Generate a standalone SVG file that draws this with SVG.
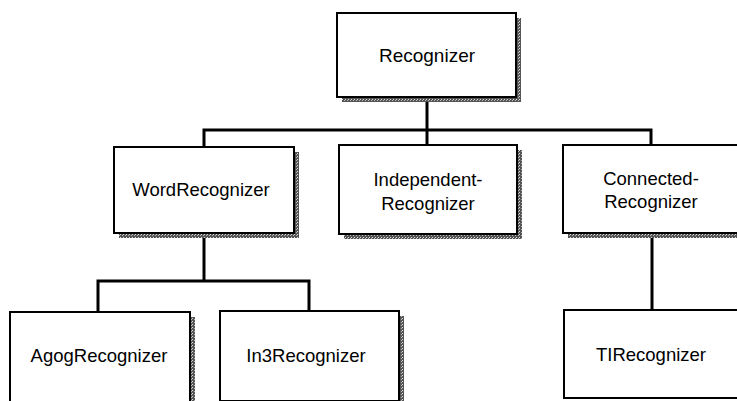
<svg xmlns="http://www.w3.org/2000/svg" width="737" height="401" viewBox="0 0 737 401">
<style>
.box{fill:#fff;stroke:#000;stroke-width:2}
.sh{fill:url(#dots)}
.lbl{font-family:"Liberation Sans",Arial,sans-serif;font-size:18.5px;fill:#000;text-anchor:middle}
.conn{fill:none;stroke:#000;stroke-width:3;stroke-linejoin:miter}
</style>
<defs>
<pattern id="dots" width="3" height="3" patternUnits="userSpaceOnUse">
<rect width="3" height="3" fill="#555"/>
<rect x="0" y="0" width="1" height="1" fill="#ddd"/>
<rect x="2" y="1" width="1" height="1" fill="#bbb"/>
</pattern>
</defs>
<rect width="737" height="401" fill="#fff"/>
<g id="connectors">
<path class="conn" d="M427,97 V145"/>
<path class="conn" d="M204,147 V130 H651 V145"/>
<path class="conn" d="M204,233 V281"/>
<path class="conn" d="M98,312 V281 H309 V311"/>
<path class="conn" d="M652,233 V310"/>
</g>
<g id="recognizer">
<rect class="sh" x="342" y="18" width="179" height="84"/>
<rect class="box" x="337" y="13" width="179" height="84"/>
<text class="lbl" x="427" y="62" style="font-size:19px">Recognizer</text>
</g>
<g id="wordrecognizer">
<rect class="sh" x="119" y="152" width="180" height="86"/>
<rect class="box" x="114" y="147" width="180" height="86"/>
<text class="lbl" x="201" y="196">WordRecognizer</text>
</g>
<g id="independentrecognizer">
<rect class="sh" x="344" y="150" width="178" height="89"/>
<rect class="box" x="339" y="145" width="178" height="89"/>
<text class="lbl" x="428" y="186">Independent-</text>
<text class="lbl" x="428" y="210">Recognizer</text>
</g>
<g id="connectedrecognizer">
<rect class="sh" x="568" y="150" width="180" height="88"/>
<rect class="box" x="563" y="145" width="180" height="88"/>
<text class="lbl" x="651" y="185">Connected-</text>
<text class="lbl" x="651" y="208">Recognizer</text>
</g>
<g id="agogrecognizer">
<rect class="sh" x="15" y="317" width="180" height="90"/>
<rect class="box" x="10" y="312" width="180" height="90"/>
<text class="lbl" x="99" y="362">AgogRecognizer</text>
</g>
<g id="in3recognizer">
<rect class="sh" x="225" y="316" width="179" height="90"/>
<rect class="box" x="220" y="311" width="179" height="90"/>
<text class="lbl" x="306" y="362">In3Recognizer</text>
</g>
<g id="tirecognizer">
<rect class="box" x="564" y="310" width="180" height="88"/>
<text class="lbl" x="651" y="361">TIRecognizer</text>
</g>
</svg>
